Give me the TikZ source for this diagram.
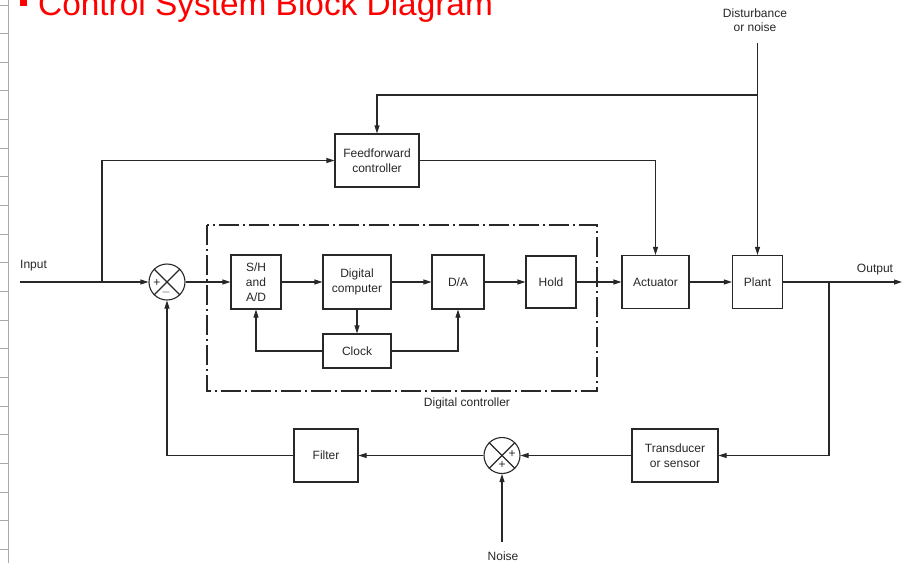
\documentclass[tikz,border=0pt]{standalone}
\usepackage{fontspec}
\setmainfont{Liberation Sans}
\usetikzlibrary{arrows.meta,calc}
\definecolor{linec}{RGB}{40,40,40}
\definecolor{rulec}{RGB}{170,170,170}
\begin{document}
\begin{tikzpicture}[x=1pt,y=-1pt,
  blk/.style={draw=linec, line width=1.1pt, inner sep=1pt, align=center,
    text=linec, font=\fontsize{12}{15}\selectfont},
  sumj/.style={draw=linec, line width=1.1pt, circle, minimum size=36pt, inner sep=0pt},
  arr/.style={draw=linec, line width=1.1pt, -{Triangle[length=8pt,width=5pt]}},
  wire/.style={draw=linec, line width=1.1pt},
  lbl/.style={text=linec, align=center, inner sep=0pt, font=\fontsize{12}{14.5}\selectfont},
  sgn/.style={text=linec, inner sep=0pt, font=\fontsize{12}{12}\selectfont},
  dashdot/.style={draw=linec, line width=1.1pt, dash pattern=on 20pt off 4pt on 2pt off 4pt}
]
\useasboundingbox (0,0) rectangle (908,563);
\clip (0,0) rectangle (908,563);
\fill[white] (0,0) rectangle (908,563);

% left ruler
\draw[rulec, line width=1pt] (8,0) -- (8,563);
\foreach \k in {0,...,19} {
  \draw[rulec, line width=1pt] (0,{5+28.65*\k}) -- (8,{5+28.65*\k});
}

% title (cut off at the top edge, as in the reference)
\fill[red] (20,-1) rectangle (26.5,6);
\node[anchor=base west, inner sep=0pt, text=red, font=\fontsize{33.4}{36}\selectfont] (title) at (38,15) {Control System Block Diagram};

% blocks
\node[blk, minimum width=84pt, minimum height=53pt] (ff) at (377,160.5) {Feedforward\\controller};
\node[blk, minimum width=50pt, minimum height=54pt] (sh) at (256,282) {S/H\\and\\A/D};
\node[blk, minimum width=68pt, minimum height=54pt] (dc) at (357,282) {Digital\\computer};
\node[blk, minimum width=52pt, minimum height=54pt] (da) at (458,282) {D/A};
\node[blk, minimum width=50pt, minimum height=52pt] (hold) at (551,282) {Hold};
\node[blk, minimum width=68pt, minimum height=34pt] (clock) at (357,351) {Clock};
\node[blk, minimum width=67pt, minimum height=53pt] (act) at (655.5,282) {Actuator};
\node[blk, minimum width=50pt, minimum height=53pt] (plant) at (757.5,282) {Plant};
\node[blk, minimum width=86pt, minimum height=53pt] (trans) at (675,455.5) {Transducer\\or sensor};
\node[blk, minimum width=64pt, minimum height=53pt] (filter) at (326,455.5) {Filter};

% summing junctions
\node[sumj] (s1) at (167,282) {};
\draw[wire] (s1.north west) -- (s1.south east);
\draw[wire] (s1.north east) -- (s1.south west);
\node[sgn] (s1p) at ($(s1.center)+(-10,1)$) {+};
\node[sgn] (s1m) at ($(s1.center)+(-1,10)$) {$-$};

\node[sumj] (s2) at (502,455.5) {};
\draw[wire] (s2.north west) -- (s2.south east);
\draw[wire] (s2.north east) -- (s2.south west);
\node[sgn] (s2p) at ($(s2.center)+(10,-1)$) {+};
\node[sgn] (s2q) at ($(s2.center)+(0,10)$) {+};

% digital controller frame
\draw[dashdot] (207,225) rectangle (597,391);
\node[lbl] (dcl) at (467,403) {Digital controller};

% labels
\node[lbl, anchor=west] (inl) at (20,266) {Input};
\node[lbl] (outl) at (875,270) {Output};
\node[lbl] (distl) at (755,20) {Disturbance\\or noise};
\node[lbl] (noisel) at (503,556) {Noise};

% coordinates
\coordinate (in) at (20,282);
\coordinate (ib) at (102,282);
\coordinate (dtop) at (757.5,43);
\coordinate (dj) at (757.5,95);
\coordinate (ob) at (829,282);
\coordinate (out) at (902,282);
\coordinate (nz) at (502,542);

% connectors
\draw[arr] (in) -- (s1.west);
\draw[arr] (ib) |- (ff.west);
\draw[arr] (s1.east) -- (sh.west);
\draw[arr] (sh.east) -- (dc.west);
\draw[arr] (dc.east) -- (da.west);
\draw[arr] (da.east) -- (hold.west);
\draw[arr] (hold.east) -- (act.west);
\draw[arr] (act.east) -- (plant.west);
\draw[arr] (plant.east) -- (out);
\draw[arr] (dc.south) -- (clock.north);
\draw[arr] (clock.west) -| (sh.south);
\draw[arr] (clock.east) -| (da.south);
\draw[arr] (ff.east) -| (act.north);
\draw[arr] (dtop) -- (plant.north);
\draw[arr] (dj) -| (ff.north);
\draw[arr] (ob) |- (trans.east);
\draw[arr] (trans.west) -- (s2.east);
\draw[arr] (nz) -- (s2.south);
\draw[arr] (s2.west) -- (filter.east);
\draw[arr] (filter.west) -| (s1.south);
\end{tikzpicture}
\end{document}
